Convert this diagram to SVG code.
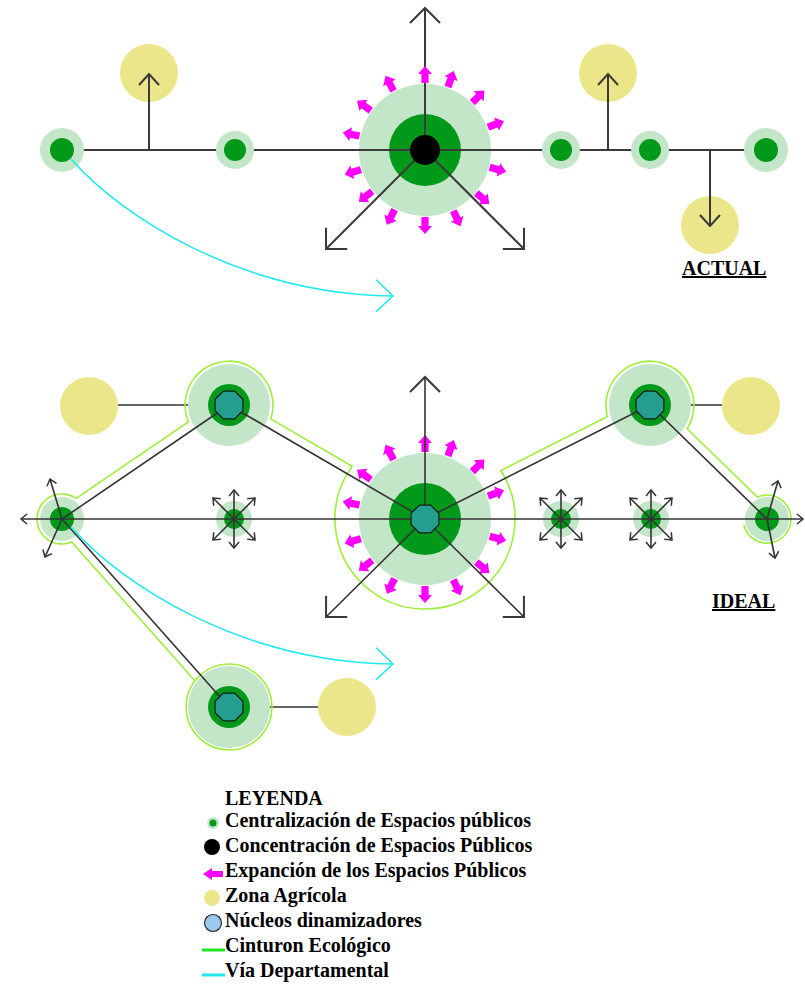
<svg xmlns="http://www.w3.org/2000/svg" width="805" height="986" viewBox="0 0 805 986">
<style>
.lg{fill:#c3e6c8}
.dg{fill:#009919}
.yl{fill:#ece68a}
.tl{fill:#239e8f;stroke:#1a1a1a;stroke-width:1.2}
.ln{fill:none;stroke:#3a3a3a;stroke-width:2}
.ln2{fill:none;stroke:#333;stroke-width:1.6}
.belt{fill:none;stroke:#9fef3a;stroke-width:1.6}
.cy{fill:none;stroke:#22e8f0;stroke-width:1.6}
.mg{fill:#ff00ff}
.t{font-family:"Liberation Serif","Times New Roman",serif;font-weight:bold;font-size:20px;fill:#000}
</style>
<defs>
<marker id="ab" viewBox="-17 -17 19 34" markerWidth="19" markerHeight="34" refX="0" refY="0" orient="auto" markerUnits="userSpaceOnUse"><path d="M-15,-15 L0,0 L-15,15" fill="none" stroke="#3a3a3a" stroke-width="2"/></marker>
<marker id="am" viewBox="-13 -13 15 26" markerWidth="15" markerHeight="26" refX="0" refY="0" orient="auto" markerUnits="userSpaceOnUse"><path d="M-11,-10 L0,0 L-11,10" fill="none" stroke="#3a3a3a" stroke-width="2"/></marker>
<marker id="as" viewBox="-8 -8 10 16" markerWidth="10" markerHeight="16" refX="0" refY="0" orient="auto" markerUnits="userSpaceOnUse"><path d="M-6,-5 L0,0 L-6,5" fill="none" stroke="#333" stroke-width="1.5"/></marker>
<marker id="as2" viewBox="-8 -8 10 16" markerWidth="10" markerHeight="16" refX="0" refY="0" orient="auto-start-reverse" markerUnits="userSpaceOnUse"><path d="M-6,-5 L0,0 L-6,5" fill="none" stroke="#333" stroke-width="1.5"/></marker>
<marker id="ac" viewBox="-19 -18 21 36" markerWidth="21" markerHeight="36" refX="0" refY="0" orient="auto" markerUnits="userSpaceOnUse"><path d="M-17,-16 L0,0 L-17,16" fill="none" stroke="#22e8f0" stroke-width="1.6"/></marker>
<path id="mg" class="mg" d="M0,-3.6 L9,-3.6 L9,-7 L17,0 L9,7 L9,3.6 L0,3.6 Z"/>
<polygon id="oct" class="tl" points="13.9,5.7 5.7,13.9 -5.7,13.9 -13.9,5.7 -13.9,-5.7 -5.7,-13.9 5.7,-13.9 13.9,-5.7"/>
<g id="mgring">
<use href="#mg" transform="rotate(-90) translate(67,0)"/>
<use href="#mg" transform="rotate(-70) translate(67,0)"/>
<use href="#mg" transform="rotate(-45) translate(67,0)"/>
<use href="#mg" transform="rotate(-20) translate(67,0)"/>
<use href="#mg" transform="rotate(15) translate(67,0)"/>
<use href="#mg" transform="rotate(40) translate(67,0)"/>
<use href="#mg" transform="rotate(65) translate(67,0)"/>
<use href="#mg" transform="rotate(90) translate(67,0)"/>
<use href="#mg" transform="rotate(117) translate(67,0)"/>
<use href="#mg" transform="rotate(142) translate(67,0)"/>
<use href="#mg" transform="rotate(163) translate(67,0)"/>
<use href="#mg" transform="rotate(-168) translate(67,0)"/>
<use href="#mg" transform="rotate(-144) translate(67,0)"/>
<use href="#mg" transform="rotate(-118) translate(67,0)"/>
</g>
<g id="star">
<path class="ln2" d="M0,0 V-29" marker-end="url(#as)"/>
<path class="ln2" d="M0,0 V29" marker-end="url(#as)"/>
<path class="ln2" d="M0,0 L-21,-21" marker-end="url(#as)"/>
<path class="ln2" d="M0,0 L21,-21" marker-end="url(#as)"/>
<path class="ln2" d="M0,0 L-21,21" marker-end="url(#as)"/>
<path class="ln2" d="M0,0 L21,21" marker-end="url(#as)"/>
</g>
</defs>

<!-- ===== ACTUAL ===== -->
<g id="actual">
<g id="a-center-base"><circle class="lg" cx="425" cy="150" r="66"/><circle class="dg" cx="425" cy="150" r="36"/></g>
<g id="a-agri">
<circle class="yl" cx="149" cy="73" r="29"/>
<circle class="yl" cx="608" cy="73" r="29"/>
<circle class="yl" cx="710" cy="225" r="29"/>
</g>
<g id="a-connectors">
<path class="ln" d="M62,150 H766"/>
<path class="ln" d="M149,150 V74" marker-end="url(#am)"/>
<path class="ln" d="M608,150 V74" marker-end="url(#am)"/>
<path class="ln" d="M710,150 V226" marker-end="url(#am)"/>
</g>
<g id="a-n1"><circle class="lg" cx="62" cy="150" r="22"/><circle class="dg" cx="62" cy="150" r="12"/></g>
<g id="a-n2"><circle class="lg" cx="235" cy="150" r="19"/><circle class="dg" cx="235" cy="150" r="11"/></g>
<g id="a-n3"><circle class="lg" cx="561" cy="150" r="19"/><circle class="dg" cx="561" cy="150" r="11"/></g>
<g id="a-n4"><circle class="lg" cx="650" cy="150" r="19"/><circle class="dg" cx="650" cy="150" r="11"/></g>
<g id="a-n5"><circle class="lg" cx="766" cy="150" r="22"/><circle class="dg" cx="766" cy="150" r="12"/></g>
<g id="a-center-lines">
<path class="ln" d="M425,150 V8" marker-end="url(#ab)"/>
<path class="ln" d="M425,150 L326,249" marker-end="url(#ab)"/>
<path class="ln" d="M425,150 L524,249" marker-end="url(#ab)"/>
</g>
<g id="a-center"><circle cx="425" cy="150" r="15" fill="#000"/></g>
<g id="a-expansion"><use href="#mgring" transform="translate(425,150)"/></g>
<g id="a-road"><path class="cy" d="M71,159 C121,216 240,294 393,296" marker-end="url(#ac)"/></g>
<text class="t" x="682" y="275" text-decoration="underline">ACTUAL</text>
</g>

<!-- ===== IDEAL ===== -->
<g id="ideal">
<g id="i-agri-connectors">
<path class="ln2" d="M118,405 H229"/>
<path class="ln2" d="M650,405 H722"/>
<path class="ln2" d="M229,707 H318"/>
</g>
<g id="i-agri">
<circle class="yl" cx="89" cy="406" r="29"/>
<circle class="yl" cx="751" cy="406" r="29"/>
<circle class="yl" cx="347" cy="707" r="29"/>
</g>
<g id="i-belt">
<path class="belt" d="M194.9,680.8 L71.7,542 A25,25 0 1 1 76.2,498.4 L188.3,421.9 A44,44 0 1 1 270.8,418.9 L352.1,466.2 A90,90 0 1 0 500.8,470.5 L607.4,416.5 A44,44 0 1 1 687.1,428.7 L757.4,497.1 A24,24 0 1 1 743.7,524.8"/>
<circle class="belt" cx="229" cy="707" r="43"/>
</g>
<g id="i-center-base"><circle class="lg" cx="425" cy="519" r="66"/><circle class="dg" cx="425" cy="519" r="36"/></g>
<g id="i-ul-base"><circle class="lg" cx="229" cy="405" r="41"/><circle class="dg" cx="229" cy="405" r="21"/></g>
<g id="i-ur-base"><circle class="lg" cx="650" cy="405" r="41"/><circle class="dg" cx="650" cy="405" r="21"/></g>
<g id="i-bl-base"><circle class="lg" cx="229" cy="707" r="41"/><circle class="dg" cx="229" cy="707" r="21"/></g>
<g id="i-left"><circle class="lg" cx="62" cy="519" r="22"/><circle class="dg" cx="62" cy="519" r="12"/></g>
<g id="i-right"><circle class="lg" cx="767" cy="519" r="22"/><circle class="dg" cx="767" cy="519" r="12"/></g>
<g id="i-s1"><circle class="lg" cx="234" cy="519" r="18"/><circle class="dg" cx="234" cy="519" r="10"/></g>
<g id="i-s2"><circle class="lg" cx="561" cy="519" r="18"/><circle class="dg" cx="561" cy="519" r="10"/></g>
<g id="i-s3"><circle class="lg" cx="651" cy="519" r="18"/><circle class="dg" cx="651" cy="519" r="10"/></g>
<g id="i-expansion"><use href="#mgring" transform="translate(425,519)"/></g>
<g id="i-connectors">
<path class="ln2" d="M21,519 H803" marker-start="url(#as2)" marker-end="url(#as2)"/>
<path class="ln2" d="M62,519 L229,405 L425,519 L650,405 L767,519"/>
<path class="ln2" d="M62,519 L229,707"/>
<path class="ln2" d="M425,519 V377" marker-end="url(#ab)"/>
<path class="ln2" d="M425,519 L326,617" marker-end="url(#ab)"/>
<path class="ln2" d="M425,519 L524,617" marker-end="url(#ab)"/>
<path class="ln2" d="M62,519 L50,479" marker-end="url(#as)"/>
<path class="ln2" d="M62,519 L45,557" marker-end="url(#as)"/>
<path class="ln2" d="M767,519 L778,481" marker-end="url(#as)"/>
<path class="ln2" d="M767,519 L775,558" marker-end="url(#as)"/>
<use href="#star" transform="translate(234,519)"/>
<use href="#star" transform="translate(561,519)"/>
<use href="#star" transform="translate(651,519)"/>
</g>
<g id="i-center"><use href="#oct" transform="translate(425,519)"/></g>
<g id="i-ul"><use href="#oct" transform="translate(229,405)"/></g>
<g id="i-ur"><use href="#oct" transform="translate(650,405)"/></g>
<g id="i-bl"><use href="#oct" transform="translate(229,707)"/></g>
<g id="i-road"><path class="cy" d="M71,527 C121,584 240,662 393,664" marker-end="url(#ac)"/></g>
<text class="t" x="712" y="608" text-decoration="underline">IDEAL</text>
</g>

<!-- ===== LEGEND ===== -->
<g id="legend">
<text class="t" x="225" y="805">LEYENDA</text>
<circle cx="213" cy="823" r="6" class="lg"/><circle cx="213" cy="823" r="3.5" class="dg"/>
<text class="t" x="225" y="827">Centralización de Espacios públicos</text>
<circle cx="212" cy="847" r="8" fill="#000"/>
<text class="t" x="225" y="852">Concentración de Espacios Públicos</text>
<path class="mg" d="M223,871 L212,871 L212,868 L203,874 L212,880 L212,877 L223,877 Z"/>
<text class="t" x="225" y="877">Expanción de los Espacios Públicos</text>
<circle cx="212" cy="898" r="8" class="yl"/>
<text class="t" x="225" y="902">Zona Agrícola</text>
<circle cx="213" cy="923" r="8.5" fill="#9cc8f0" stroke="#222" stroke-width="1.2"/>
<text class="t" x="225" y="927">Núcleos dinamizadores</text>
<path d="M202,950 H225" stroke="#22e622" stroke-width="3"/>
<text class="t" x="225" y="952">Cinturon Ecológico</text>
<path d="M202,975 H225" stroke="#22e8f0" stroke-width="3"/>
<text class="t" x="225" y="977">Vía Departamental</text>
</g>
</svg>
